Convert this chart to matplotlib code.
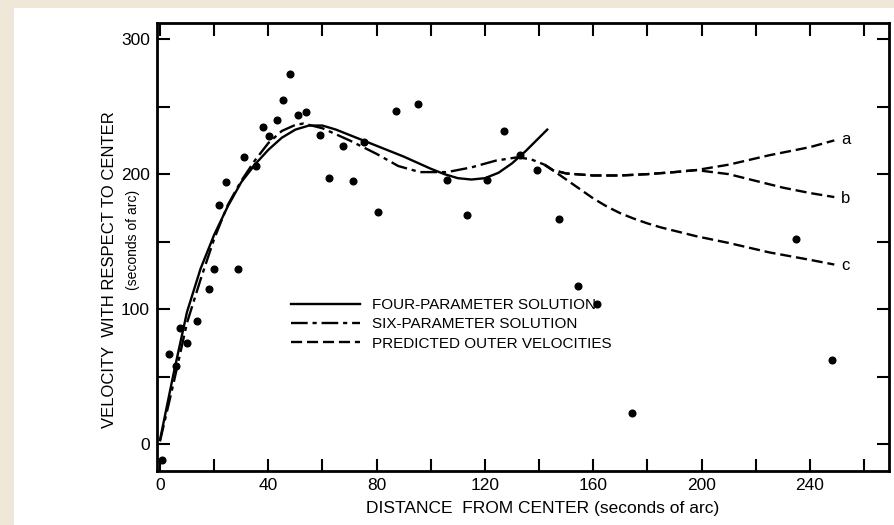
import matplotlib.pyplot as plt
from matplotlib.patches import Rectangle

plt.rcParams['font.family'] = ['Liberation Sans Narrow', 'Liberation Sans', 'DejaVu Sans']
plt.rcParams['lines.scale_dashes'] = False

# observed velocities (distance, velocity)
obs_x = [0.6, 3.3, 6.1, 7.5, 9.9, 13.7, 18.1, 20.0, 21.9, 24.4, 28.7, 31.1, 35.4,
         38.1, 40.1, 43.2, 45.5, 48.0, 51.1, 53.8, 59.1, 62.3, 67.5, 71.3, 75.4,
         80.4, 87.1, 95.4, 105.9, 113.3, 120.9, 127.1, 132.9, 139.1, 147.3,
         154.5, 161.5, 174.2, 234.7, 248.0]
obs_y = [-12, 67, 58, 86, 75, 91, 115, 130, 177, 194, 130, 213, 206,
         235, 228, 240, 255, 274, 244, 246, 229, 197, 221, 195, 224,
         172, 247, 252, 196, 170, 196, 232, 214, 203, 167,
         117, 104, 23, 152, 62]

# four-parameter solution
four_x = [0, 5, 10, 15, 20, 25, 30, 35, 40, 45, 50, 55, 60, 65, 70, 80, 90, 100,
          105, 110, 115, 120, 125, 130, 135, 140, 143]
four_y = [3, 52, 98, 130, 155, 176, 194, 207, 218, 227, 233, 236, 236, 233,
          229, 221, 213, 204, 200, 197, 196, 197, 201, 208, 217, 227, 233]

# six-parameter solution
six_x = [0, 5, 10, 15, 20, 25, 30, 35, 40, 45, 50, 53, 60, 70, 80, 88, 96, 106,
         115, 124, 132, 137, 142]
six_y = [2, 45, 90, 122, 152, 177, 195, 210, 223, 232, 236.5, 237.5, 234, 225, 215,
         206, 201.5, 201.5, 205, 210, 212.5, 211, 207]

# predicted outer velocities a, b, c
pa_x = [142, 145, 150, 160, 170, 180, 190, 198, 210, 225, 240, 249]
pa_y = [207, 203, 200.5, 199, 199, 200, 201.5, 203, 207, 214, 220, 225]
pb_x = [142, 145, 150, 160, 170, 180, 190, 198, 210, 219, 230, 240, 249]
pb_y = [207, 203, 200.5, 199, 199, 200, 201.5, 203, 200, 195.5, 190, 186, 183]
pc_x = [142, 145, 150, 155, 160, 165, 170, 175, 180, 185, 190, 198, 210, 225, 240, 249]
pc_y = [207, 203, 196, 189, 182, 176, 171, 167, 163.5, 160.5, 158, 154, 149, 142,
        136.5, 133]

curve_labels = ['a', 'b', 'c']
curve_label_y = [226, 182, 132]

fig = plt.figure(figsize=(8.95, 5.25), dpi=100, facecolor='#efe7d8')
fig.patches.append(Rectangle((14 / 895, 0), 1, 1 - 8 / 525, transform=fig.transFigure,
                             facecolor='white', edgecolor='none', zorder=-10))
ax = fig.add_axes([157 / 895, 1 - 471 / 525, (889 - 157) / 895, (471 - 23) / 525])
ax.patch.set_visible(False)

ax.plot(obs_x, obs_y, 'o', color='black', markersize=4.8, zorder=5)
ax.plot(four_x, four_y, color='black', lw=1.7, label='FOUR-PARAMETER SOLUTION')
ax.plot(six_x, six_y, color='black', lw=1.7, linestyle=(0, (12, 3.5, 3, 3.5)),
        label='SIX-PARAMETER SOLUTION')
ax.plot(pa_x, pa_y, color='black', lw=1.7, linestyle=(0, (8, 3.5)),
        label='PREDICTED OUTER VELOCITIES')
ax.plot(pb_x, pb_y, color='black', lw=1.7, linestyle=(0, (8, 3.5)))
ax.plot(pc_x, pc_y, color='black', lw=1.7, linestyle=(0, (8, 3.5)))
for lab, ly in zip(curve_labels, curve_label_y):
    ax.text(251.5, ly, lab, fontsize=12, va='center', ha='left')

ax.set_xlim(-1.1, 269.2)
ax.set_ylim(-20, 312)
ax.set_xticks(range(0, 261, 20))
ax.set_xticklabels([str(v) if v % 40 == 0 else '' for v in range(0, 261, 20)])
ax.set_yticks(range(0, 301, 50))
ax.set_yticklabels([str(v) if v % 100 == 0 else '' for v in range(0, 301, 50)])
ax.tick_params(direction='in', length=9, width=1.5, labelsize=12.5, top=True, right=True,
               pad=5)
for s in ax.spines.values():
    s.set_linewidth(2)

fig.text(543 / 895, 1 - 508 / 525, 'DISTANCE  FROM CENTER (seconds of arc)',
         fontsize=12.5, ha='center', va='center')
fig.text(110 / 895, 1 - 270 / 525, 'VELOCITY  WITH RESPECT TO CENTER',
         fontsize=12, rotation=90, ha='center', va='center')
fig.text(133 / 895, 1 - 240 / 525, '(seconds of arc)',
         fontsize=10, rotation=90, ha='center', va='center')

ax.legend(loc='upper left', bbox_to_anchor=(291 / 895, 1 - 298 / 525),
          bbox_transform=fig.transFigure, frameon=False, fontsize=11,
          handlelength=4.5, handletextpad=0.8, labelspacing=0.35,
          borderpad=0, borderaxespad=0)

fig.savefig('out.png', dpi=100)
